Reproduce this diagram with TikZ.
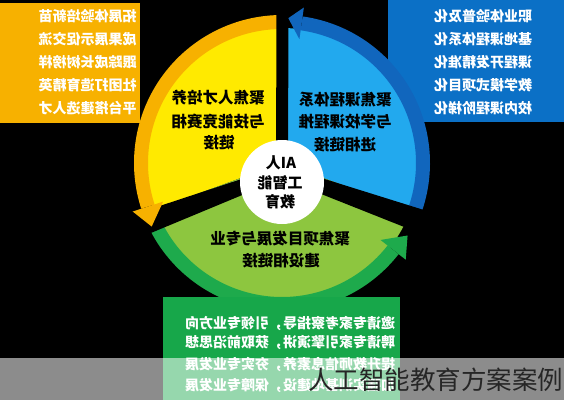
\documentclass[tikz,border=0pt]{standalone}
\usepackage{fontspec}
\usepackage{graphicx}
\usetikzlibrary{calc}
\newfontfamily\cjk{Noto Sans CJK SC}
\newcommand\mir[1]{\reflectbox{#1}}
\definecolor{boxorange}{HTML}{F7B100}
\definecolor{lyellow}{HTML}{FFEA00}
\definecolor{boxblue}{HTML}{0B70C6}
\definecolor{bandblue}{HTML}{1166BD}
\definecolor{lblue}{HTML}{22A9EE}
\definecolor{lgreen}{HTML}{8DC63F}
\definecolor{bandgreen}{HTML}{1EAA4C}
\definecolor{boxgreen}{HTML}{17A74A}
\tikzset{
  boxtxt/.style={text=white, inner sep=0pt, font=\cjk\bfseries\fontsize{14}{16}\selectfont},
  sectxt/.style={text=black, inner sep=0pt, font=\cjk\bfseries\fontsize{15.5}{17}\selectfont},
  ctrtxt/.style={text=black, inner sep=0pt, font=\cjk\bfseries\fontsize{15}{17}\selectfont},
  divider/.style={black, line width=12pt},
  band/.style={line width=14pt},
}
\begin{document}
\begin{tikzpicture}[x=1pt,y=1pt]
\useasboundingbox (0,0) rectangle (564,400);
\fill[black] (0,0) rectangle (564,400);
\coordinate (C) at (282,237);
\coordinate (P) at (282,228);
\coordinate (T) at (282.5,400);
% side boxes
\fill[boxorange] (0,277) rectangle (140,397);
\fill[boxblue] (388,278) rectangle (564,400);
% sectors
\fill[lyellow] (C) -- ++(90:135) arc[start angle=90,end angle=200,radius=135] -- cycle;
\fill[lblue] (C) -- ++(-20:135) arc[start angle=-20,end angle=90,radius=135] -- cycle;
\fill[lgreen] (C) -- ++(200:137) arc[start angle=200,end angle=340,radius=137] -- cycle;
% arrow bands
\draw[band, boxorange] (C) ++(91:141) arc[start angle=91,end angle=198,radius=141];
\draw[band, bandblue] (C) ++(-23:141) arc[start angle=-23,end angle=82,radius=141];
\draw[band, bandgreen] (C) ++(207:141) arc[start angle=207,end angle=322,radius=141];
% dividers
\draw[divider] (T) -- (P);
\fill[black] ($(P)+(290.4:6)$) -- ($(P)+(110.4:6)$) -- ($(P)+(200.4:185)+(110.4:13)$) -- ($(P)+(200.4:185)+(290.4:13)$) -- cycle;
\fill[black] ($(P)+(70.5:6)$) -- ($(P)+(250.5:6)$) -- ($(P)+(-19.5:185)+(250.5:13)$) -- ($(P)+(-19.5:185)+(70.5:13)$) -- cycle;
\coordinate (DL) at ($(P)+(200.4:185)$);
\coordinate (DR) at ($(P)+(-19.5:185)$);
% arrow heads
\fill[boxorange] ($(C)+(198:125)$) -- ($(C)+(198:157)$) -- ($(C)+(206:145)$) -- cycle;
\fill[bandblue] ($(C)+(82:125)$) -- ($(C)+(82:157)$) -- ($(C)+(87.5:145)$) -- cycle;
\fill[bandgreen] ($(C)+(322:125)$) -- ($(C)+(322:157)$) -- ($(C)+(330:145)$) -- cycle;
% centre
\fill[white] (282,218) circle[radius=42];
\node[ctrtxt] (c1) at (281,237) {\mir{AI人}};
\node[ctrtxt] (c2) at (280,217) {\mir{工智能}};
\node[ctrtxt] (c3) at (280,198) {\mir{教育}};
% sector texts
\node[sectxt] (ys1) at (218,302) {\mir{聚焦人才培养}};
\node[sectxt] (ys2) at (218,279) {\mir{与技能竞赛相}};
\node[sectxt] (ys3) at (219,257) {\mir{链接}};
\node[sectxt] (bs1) at (345,300) {\mir{聚焦课程体系}};
\node[sectxt] (bs2) at (345,278) {\mir{与学校课程推}};
\node[sectxt] (bs3) at (345,255) {\mir{进相链接}};
\node[sectxt] (gs1) at (280,161) {\mir{聚焦项目发展与专业}};
\node[sectxt] (gs2) at (281,139) {\mir{建设相链接}};
% yellow box text
\node[boxtxt] (yb1) at (87.5,384) {\mir{拓展体验培新苗}};
\node[boxtxt] (yb2) at (87.5,361) {\mir{成果展示促交流}};
\node[boxtxt] (yb3) at (87.5,338) {\mir{跟踪成长树榜样}};
\node[boxtxt] (yb4) at (87.5,315) {\mir{社团打造育精英}};
\node[boxtxt] (yb5) at (87.5,292) {\mir{平台搭建选人才}};
% blue box text
\node[boxtxt] (bb1) at (483,384) {\mir{职业体验普及化}};
\node[boxtxt] (bb2) at (483,361) {\mir{基地课程体系化}};
\node[boxtxt] (bb3) at (483,338) {\mir{课程开发精准化}};
\node[boxtxt] (bb4) at (483,315) {\mir{教学模式项目化}};
\node[boxtxt] (bb5) at (483,292) {\mir{校内课程阶梯化}};
% green box
\fill[boxgreen] (163,0) rectangle (400,103);
\node[boxtxt] (gb1) at (290,77) {\mir{邀请专家考察指导，引领专业方向}};
\node[boxtxt] (gb2) at (290,57) {\mir{聘请专家引擎演讲，获取前沿思想}};
\node[boxtxt] (gb3) at (290,36) {\mir{提升教师信息素养，夯实专业发展}};
\node[boxtxt] (gb4) at (290,15) {\mir{加强实训基地建设，保障专业发展}};
% watermark band
\fill[white, opacity=0.55] (0,0) rectangle (564,42);
\node[inner sep=0pt, text=black!85, font=\cjk\fontsize{25.5}{28}\selectfont] (wm) at (435.5,20) {人工智能教育方案案例};
\end{tikzpicture}
\end{document}
